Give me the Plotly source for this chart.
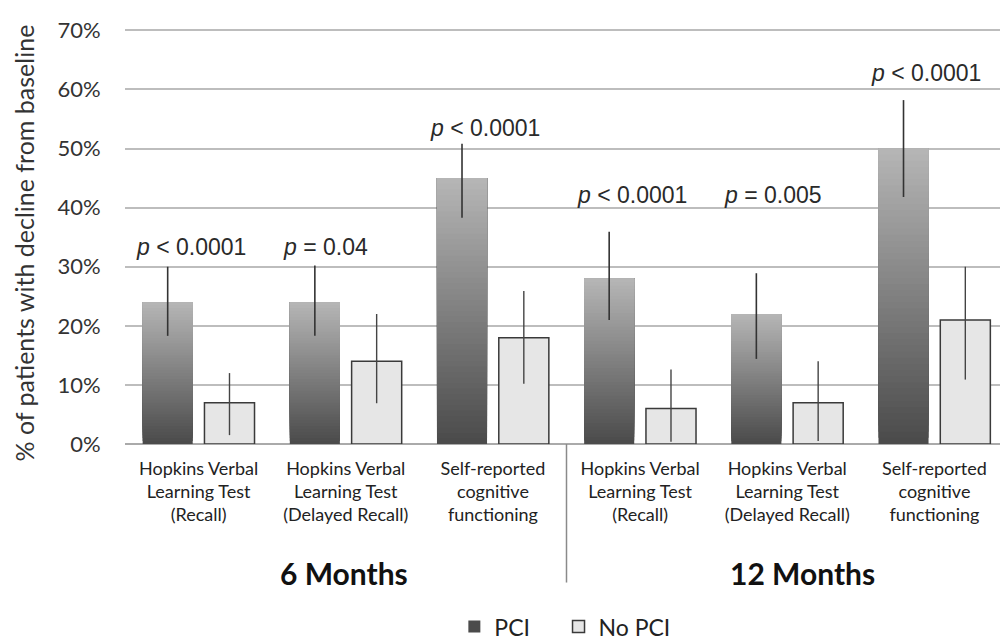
import plotly.graph_objects as go

# ---- data ----
periods = ["6 Months", "6 Months", "6 Months", "12 Months", "12 Months", "12 Months"]
tests = [
    "Hopkins Verbal<br>Learning Test<br>(Recall)",
    "Hopkins Verbal<br>Learning Test<br>(Delayed Recall)",
    "Self-reported<br>cognitive<br>functioning",
    "Hopkins Verbal<br>Learning Test<br>(Recall)",
    "Hopkins Verbal<br>Learning Test<br>(Delayed Recall)",
    "Self-reported<br>cognitive<br>functioning",
]
pci = [24, 24, 45, 28, 22, 50]
pci_hi = [30, 30.2, 50.8, 35.9, 28.9, 58.2]
pci_lo = [18.3, 18.3, 38.3, 21, 14.4, 41.8]
nopci = [7, 14, 18, 6, 7, 21]
nopci_hi = [12, 22, 25.9, 12.6, 14, 30]
nopci_lo = [1.5, 6.9, 10.2, 0.4, 0.5, 10.9]
pvalues = ["<i>p</i> &lt; 0.0001", "<i>p</i> = 0.04", "<i>p</i> &lt; 0.0001",
           "<i>p</i> &lt; 0.0001", "<i>p</i> = 0.005", "<i>p</i> &lt; 0.0001"]
pvalue_label_y = [33.4, 33.4, 53.5, 42.1, 42.1, 62.8]
period_labels = ["6 Months", "12 Months"]
y_ticks = [0, 10, 20, 30, 40, 50, 60, 70]
y_ticklabels = [f"{v}%" for v in y_ticks]

x = [f"{p} - {t}" for p, t in zip(periods, tests)]

LABEL_FONT = "Lato"
fig = go.Figure()

# PCI bars drawn with a vertical gradient: overlapping slices, each running
# from its own start up to the bar top, lighter slices painted over darker ones
N = 48
c_bot, c_top = 74, 182
for i in range(N):
    frac = (i + 0.5) / N
    g = int(round(c_bot + (c_top - c_bot) * frac))
    fig.add_trace(go.Bar(
        x=x, y=[v * (1 - i / N) for v in pci], base=[v * i / N for v in pci],
        offsetgroup="pci", marker=dict(color=f"rgb({g},{g},{g})", line=dict(width=0)),
        name="PCI" + "\u00a0" * 4, showlegend=(i == 0), legendgroup="pci", hoverinfo="skip",
    ))

# PCI full bar (transparent) carrying the error bars
fig.add_trace(go.Bar(
    x=x, y=pci, offsetgroup="pci", name="PCI", showlegend=False, legendgroup="pci",
    marker=dict(color="rgba(0,0,0,0)", line=dict(width=0)),
    error_y=dict(type="data", symmetric=False,
                 array=[h - v for h, v in zip(pci_hi, pci)],
                 arrayminus=[v - l for l, v in zip(pci_lo, pci)],
                 color="#333333", thickness=1.6, width=0),
))

fig.add_trace(go.Bar(
    x=x, y=nopci, offsetgroup="nopci", name="No PCI", showlegend=True,
    marker=dict(color="#e6e6e6", line=dict(color="#3a3a3a", width=1.5)),
    error_y=dict(type="data", symmetric=False,
                 array=[h - v for h, v in zip(nopci_hi, nopci)],
                 arrayminus=[v - l for l, v in zip(nopci_lo, nopci)],
                 color="#444444", thickness=1.4, width=0),
))

annotations = []
for xi, txt, yy in zip(x, pvalues, pvalue_label_y):
    annotations.append(dict(x=xi, y=yy, xref="x", yref="y", text=txt, showarrow=False,
                            xanchor="left", yanchor="middle", xshift=-65,
                            font=dict(family="Liberation Sans", size=23, color="#2a2a2a")))
for lab, idx, xs in zip(period_labels, [1, 4], [-2, 15]):
    annotations.append(dict(x=x[idx], y=-0.310, xref="x", yref="paper", text=f"<b>{lab}</b>",
                            showarrow=False, xanchor="center", yanchor="middle", xshift=xs,
                            font=dict(family=LABEL_FONT, size=30, color="#111111")))
annotations.append(dict(x=-0.1145, y=0.484, xref="paper", yref="paper",
                        text="% of patients with decline from baseline", textangle=-90,
                        showarrow=False, xanchor="center", yanchor="middle",
                        font=dict(family=LABEL_FONT, size=25, color="#333333")))

fig.update_layout(
    width=1008, height=670,
    margin=dict(l=117, r=8, t=17, b=234),
    paper_bgcolor="white", plot_bgcolor="white",
    barmode="group", bargap=0.16, bargroupgap=0.19,
    annotations=annotations,
    shapes=[dict(type="line", xref="x", yref="paper", x0=2.5, x1=2.5, y0=0, y1=-0.333,
                 line=dict(color="#8a8a8a", width=1.5))],
    legend=dict(orientation="h", x=0.373, y=-0.439, xanchor="left", yanchor="middle",
                font=dict(family=LABEL_FONT, size=23, color="#222222"),
                itemwidth=30, traceorder="normal"),
    xaxis=dict(type="category", tickvals=x, ticktext=tests, showgrid=False,
               showline=False, zeroline=False, ticks="outside", ticklen=8,
               tickcolor="rgba(0,0,0,0)",
               tickfont=dict(family=LABEL_FONT, size=18, color="#222222")),
    yaxis=dict(range=[0, 70.4], tickvals=y_ticks, ticktext=y_ticklabels,
               showgrid=True, gridcolor="#bdbdbd", gridwidth=1.5, zeroline=True,
               zerolinecolor="#aaaaaa", zerolinewidth=1.5, showline=False,
               ticks="outside", ticklen=19, tickcolor="rgba(0,0,0,0)",
               tickfont=dict(family=LABEL_FONT, size=22, color="#333333")),
)

fig.write_html("out.html")
